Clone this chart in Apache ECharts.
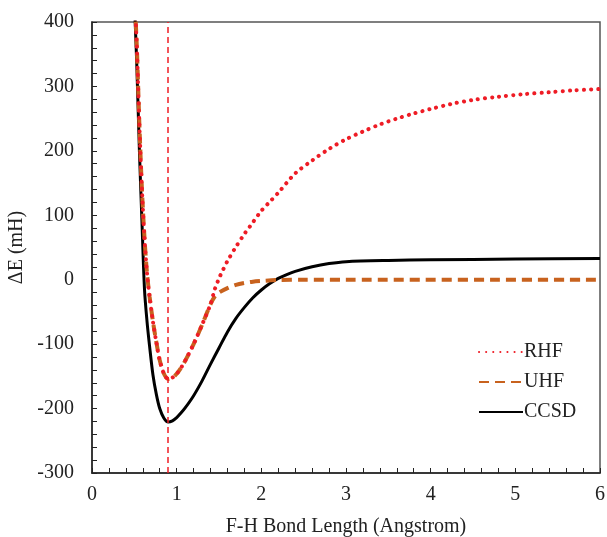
<!DOCTYPE html>
<html>
<head>
<meta charset="utf-8">
<script src="https://cdn.jsdelivr.net/npm/echarts@6/dist/echarts.min.js"></script>
<style>
  html, body { margin: 0; padding: 0; background: #fff; }
  #chart { width: 607px; height: 537px; }
</style>
</head>
<body>
<div id="chart"></div>
<script>
// bond length (Angstrom) and energies (mH)
const ccsdX = [0.50, 0.51, 0.53, 0.56, 0.59, 0.62, 0.65, 0.68, 0.72, 0.76, 0.80, 0.85, 0.90, 0.95, 1.00, 1.05, 1.1, 1.2, 1.3, 1.4, 1.5, 1.6, 1.7, 1.8, 1.9, 2.0, 2.1, 2.2, 2.3, 2.4, 2.6, 2.8, 3.0, 3.5, 4.0, 5.0, 6.0];
const ccsdY = [440, 400, 330, 200, 90, -15, -65, -103, -148, -178, -200, -215, -221, -219, -214, -207, -199, -180, -157, -131, -106, -81, -60, -43, -28, -16, -6, 2, 8, 13, 20, 25, 28, 30, 31, 32, 33];

const uhfX = [0.50, 0.51, 0.53, 0.56, 0.59, 0.62, 0.65, 0.68, 0.72, 0.76, 0.80, 0.85, 0.90, 0.95, 1.00, 1.05, 1.1, 1.2, 1.3, 1.4, 1.45, 1.5, 1.6, 1.7, 1.8, 1.9, 2.0, 2.2, 2.5, 3.0, 6.0];
const uhfY = [450, 420, 360, 240, 140, 65, 10, -26, -65, -97, -125, -146, -154, -152, -146, -137, -126, -100, -70, -38, -26, -20, -13, -8, -5, -3, -2, -0.5, 0, 0, 0];

const rhfX = [0.50, 0.51, 0.53, 0.56, 0.59, 0.62, 0.65, 0.68, 0.72, 0.76, 0.80, 0.85, 0.90, 0.95, 1.00, 1.05, 1.1, 1.2, 1.3, 1.4, 1.45, 1.5, 1.55, 1.6, 1.7, 1.8, 1.9, 2.0, 2.1, 2.2, 2.4, 2.6, 2.8, 3.0, 3.2, 3.4, 3.6, 3.8, 4.0, 4.25, 4.5, 4.8, 5.1, 5.4, 5.7, 6.0];
const rhfY = [450, 420, 360, 240, 140, 65, 10, -26, -65, -97, -125, -146, -154, -152, -146, -137, -126, -100, -70, -38, -15, 2, 16, 29, 51, 71, 89, 107, 121, 135, 165, 185, 203, 218, 230, 241, 250, 258, 265, 273, 279, 284, 288, 291, 294, 296];

const equilibrium = 0.9;

const zip = (xs, ys) => xs.map((x, i) => [x, ys[i]]);

const serif = 'Liberation Serif';
const chart = echarts.init(document.getElementById('chart'));

chart.setOption({
  animation: false,
  backgroundColor: '#fff',
  grid: {
    left: 92, right: 7, top: 22, bottom: 64,
    outerBoundsMode: 'none',
    show: true, borderColor: '#555', borderWidth: 1.5
  },
  legend: {
    orient: 'vertical',
    left: 473, top: 337,
    itemWidth: 44, itemHeight: 10, itemGap: 10,
    itemStyle: { opacity: 0 },
    textStyle: { fontFamily: serif, fontSize: 20, color: '#222', padding: [0, 0, 0, -4] },
    data: ['RHF', 'UHF', 'CCSD']
  },
  xAxis: {
    type: 'value', min: 0, max: 6, interval: 1,
    name: 'F-H Bond Length (Angstrom)',
    nameLocation: 'middle', nameGap: 44,
    nameTextStyle: { fontFamily: serif, fontSize: 20, color: '#222' },
    axisLine: { onZero: false, lineStyle: { color: '#222', width: 1.5 } },
    axisTick: { inside: true, length: 5, lineStyle: { color: '#222' } },
    minorTick: { show: true, splitNumber: 5, length: 5, lineStyle: { color: '#222' } },
    axisLabel: { fontFamily: serif, fontSize: 20, color: '#222', margin: 12 },
    splitLine: { show: false }
  },
  yAxis: {
    type: 'value', min: -300, max: 400, interval: 100,
    name: 'ΔE (mH)',
    nameLocation: 'middle', nameGap: 57,
    nameTextStyle: { fontFamily: serif, fontSize: 20, color: '#222' },
    axisLine: { onZero: false, lineStyle: { color: '#222', width: 1.5 } },
    axisTick: { inside: true, length: 5, lineStyle: { color: '#222' } },
    minorTick: { show: true, splitNumber: 5, length: 5, lineStyle: { color: '#222' } },
    axisLabel: { fontFamily: serif, fontSize: 20, color: '#222', margin: 18 },
    splitLine: { show: false }
  },
  series: [
    {
      name: 'CCSD', type: 'line', smooth: 0.3, symbol: 'none', clip: true, z: 3,
      data: zip(ccsdX, ccsdY),
      lineStyle: { color: '#000', width: 3 },
      itemStyle: { color: '#000' }
    },
    {
      name: 'UHF', type: 'line', smooth: 0.3, symbol: 'none', clip: true, z: 4,
      data: zip(uhfX, uhfY),
      lineStyle: { color: '#c8621e', width: 4, type: [10, 6] },
      itemStyle: { color: '#c8621e' },
      markLine: {
        silent: true, symbol: 'none', label: { show: false },
        lineStyle: { color: '#ee1c25', width: 1.5, type: [6, 4] },
        data: [{ xAxis: equilibrium }]
      }
    },
    {
      name: 'RHF', type: 'line', smooth: 0.3, symbol: 'none', clip: true, z: 5,
      data: zip(rhfX, rhfY),
      lineStyle: { color: '#ee1c25', width: 4, type: [0.1, 7], cap: 'round' },
      itemStyle: { color: '#ee1c25' }
    }
  ]
});
</script>
</body>
</html>
